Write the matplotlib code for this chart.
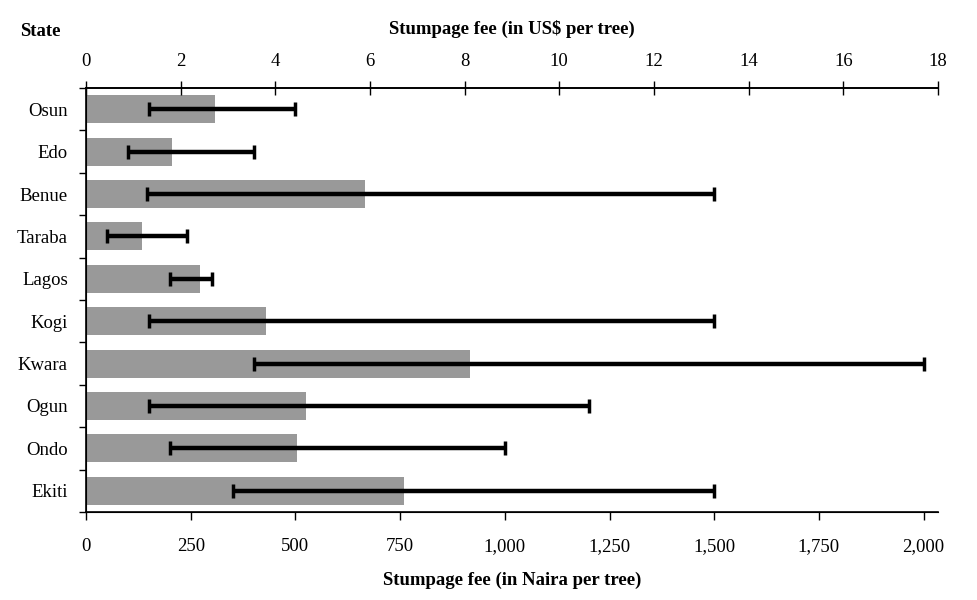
import matplotlib
matplotlib.use("Agg")
import matplotlib.pyplot as plt
from matplotlib.ticker import FuncFormatter, MultipleLocator
import numpy as np

plt.rcParams['font.family'] = ['Liberation Serif', 'DejaVu Serif']

# Data (Naira per tree)
states = ['Osun', 'Edo', 'Benue', 'Taraba', 'Lagos', 'Kogi', 'Kwara', 'Ogun', 'Ondo', 'Ekiti']
mean_fee = [308, 206, 666, 134, 273, 430, 916, 526, 504, 759]
min_fee = [150, 100, 145, 50, 200, 150, 400, 150, 200, 350]
max_fee = [500, 400, 1500, 240, 300, 1500, 2000, 1200, 1000, 1500]
naira_per_usd = 113

fig = plt.figure(figsize=(9.77, 6.0), dpi=100)
ax = fig.add_axes([0.088, 0.1467, 0.872, 0.7066])

y = np.arange(len(states))
ax.barh(y, mean_fee, height=0.66, color='#999999', zorder=2)

lo = np.array(min_fee)
hi = np.array(max_fee)
ax.errorbar((lo + hi) / 2, y, xerr=(hi - lo) / 2, fmt='none', ecolor='black',
            elinewidth=3.2, capsize=5, capthick=2.5, zorder=3)

ax.set_ylim(len(states) - 0.5, -0.5)
ax.set_xlim(0, 18 * naira_per_usd)

# y axis: labels without ticks, ticks at row boundaries
ax.set_yticks(y)
ax.set_yticklabels(states, fontsize=13.5)
ax.tick_params(axis='y', which='major', length=0, pad=13)
ax.set_yticks(np.arange(-0.5, len(states)), minor=True)
ax.tick_params(axis='y', which='minor', length=5, width=1, direction='out')

# bottom axis in Naira
ax.set_xticks(np.arange(0, 2001, 250))
ax.xaxis.set_major_formatter(FuncFormatter(lambda v, p: f'{v:,.0f}'))
ax.tick_params(axis='x', length=6, width=1, direction='out', pad=13, labelsize=13.5)
ax.set_xlabel('Stumpage fee (in Naira per tree)', fontsize=13.5, fontweight='bold', labelpad=12)

ax.spines['right'].set_visible(False)
for s in ['left', 'bottom', 'top']:
    ax.spines[s].set_linewidth(1.2)

# top axis in US$
ax2 = ax.twiny()
ax2.set_xlim(0, 18)
ax2.xaxis.set_major_locator(MultipleLocator(2))
ax2.tick_params(axis='x', length=10, width=1, direction='inout', pad=8, labelsize=13.5)
ax2.set_xlabel('Stumpage fee (in US$ per tree)', fontsize=13.5, fontweight='bold', labelpad=13.5)
ax2.spines['right'].set_visible(False)
ax2.spines['top'].set_linewidth(1.2)

fig.text(0.021, 0.948, 'State', fontsize=13.5, fontweight='bold', va='center', ha='left')

fig.savefig('out.png', dpi=100)
